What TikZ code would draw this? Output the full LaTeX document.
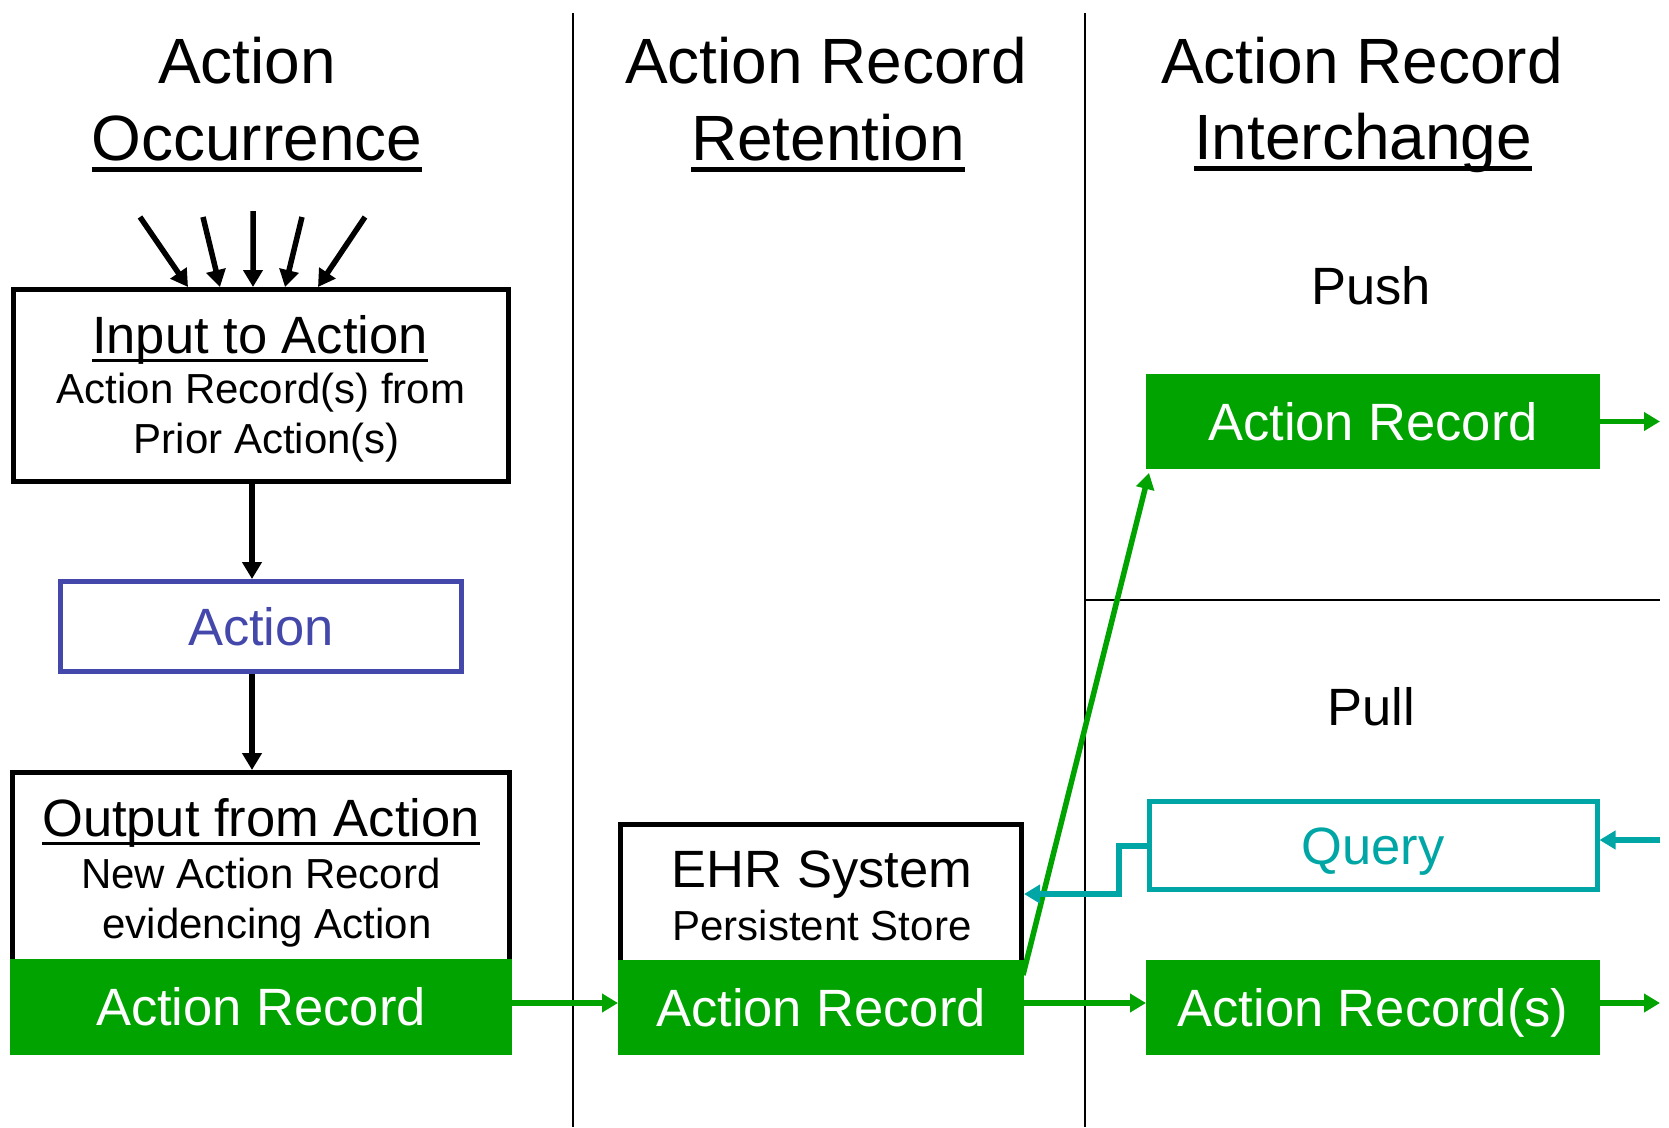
\documentclass[tikz,border=0pt]{standalone}
\usepackage{fontspec}
\setmainfont{Liberation Sans}
\usetikzlibrary{arrows.meta,calc}
\definecolor{argreen}{RGB}{0,163,0}
\definecolor{arblue}{RGB}{68,72,170}
\definecolor{arteal}{RGB}{0,166,166}
\newcommand\myul[1]{\setbox0=\hbox{#1}\rlap{\rule[-0.18em]{\wd0}{0.075em}}\box0}
\begin{document}
\begin{tikzpicture}[x=1pt,y=-1pt,
  ttl/.style={font=\fontsize{64}{70}\selectfont, anchor=base, inner sep=0pt},
  hdr/.style={font=\fontsize{52.5}{60}\selectfont, anchor=base, inner sep=0pt},
  sub/.style={font=\fontsize{42}{48}\selectfont, anchor=base, inner sep=0pt},
  box/.style={rectangle, line width=5pt, inner sep=0pt, outer sep=2.5pt,
    font=\fontsize{52.5}{60}\selectfont, text height=37.6pt, text depth=0pt},
  grn/.style={box, fill=argreen, text=white, draw=none, outer sep=0pt},
  blk/.style={line width=5.5pt, -{Triangle[width=19pt,length=17pt]}},
  garr/.style={argreen, line width=5.5pt, -{Triangle[width=18pt,length=16pt]}},
  tarr/.style={arteal, line width=6pt, -{Triangle[width=18pt,length=16pt]}},
  sepline/.style={line width=2.5pt}]
\useasboundingbox (0,0) rectangle (1669,1127);
% separators
\draw[sepline] (573,13) -- (573,1127);
\draw[sepline] (1085,13) -- (1085,1127);
\draw[sepline] (1085,600) -- (1660,600);
% titles
\node[ttl] (t1a) at (247,83) {Action};
\node[ttl] (t1b) at (257,160) {\myul{Occurrence}};
\node[ttl] (t2a) at (826,83) {Action Record};
\node[ttl] (t2b) at (828,160) {\myul{Retention}};
\node[ttl] (t3a) at (1362,83) {Action Record};
\node[ttl] (t3b) at (1363,159) {\myul{Interchange}};
\node[hdr] (push) at (1371,304) {Push};
\node[hdr] (pull) at (1371,725) {Pull};
% input box
\node[box, draw, minimum width=495pt, minimum height=192pt] (inbox) at (261,385.5) {};
\node[hdr] (inl1) at (260,353) {\myul{Input to Action}};
\node[sub] (inl2) at (261,403) {Action Record(s) from};
\node[sub] (inl3) at (267,453) {Prior Action(s)};
% action
\node[box, draw=arblue, text=arblue, minimum width=401pt, minimum height=90pt] (act) at (261,626.5) {Action};
% output
\node[box, draw, minimum width=497pt, minimum height=280pt] (outbox) at (261,912.5) {};
\node[hdr] (ol1) at (261,836) {\myul{Output from Action}};
\node[sub] (ol2) at (261,888) {New Action Record};
\node[sub] (ol3) at (267,938) {evidencing Action};
\node[grn, minimum width=502pt, minimum height=96pt] (outg) at (261,1007) {Action Record};
% EHR
\node[box, draw, minimum width=401pt, minimum height=228pt] (ehr) at (821,938.5) {};
\node[hdr] (el1) at (822,887) {EHR System};
\node[sub] (el2) at (822,940) {Persistent Store};
\node[grn, minimum width=406pt, minimum height=95pt] (ehrg) at (821,1007.5) {Action Record};
% push / pull
\node[grn, minimum width=454pt, minimum height=95pt] (pushg) at (1373,421.5) {Action Record};
\node[box, draw=arteal, text=arteal, minimum width=448pt, minimum height=88pt] (query) at (1373,845.5) {Query};
\node[grn, minimum width=454pt, minimum height=95pt] (pullg) at (1373,1007.5) {Action Record(s)};
% black arrows
\coordinate (ax) at (252,0);
\draw[blk] (inbox.south -| ax) -- (act.north -| ax);
\draw[blk] (act.south -| ax) -- (outbox.north -| ax);
\coordinate (i1) at (140,217);
\coordinate (i2) at (203,217);
\coordinate (i3) at (253,211);
\coordinate (i4) at (302,217);
\coordinate (i5) at (365,217);
\draw[blk] (i1) -- ($(inbox.north west)!0.354!(inbox.north east)$);
\draw[blk] (i2) -- ($(inbox.north west)!0.418!(inbox.north east)$);
\draw[blk] (i3) -- ($(inbox.north west)!0.484!(inbox.north east)$);
\draw[blk] (i4) -- ($(inbox.north west)!0.548!(inbox.north east)$);
\draw[blk] (i5) -- ($(inbox.north west)!0.614!(inbox.north east)$);
% green arrows
\coordinate (gy) at (0,1003);
\draw[garr] (gy -| outg.east) -- (gy -| ehrg.west);
\draw[garr] (gy -| ehrg.east) -- (gy -| pullg.west);
\coordinate (pullout) at (1660,1003);
\draw[garr] (pullout -| pullg.east) -- (pullout);
\coordinate (pushout) at (1660,421.5);
\draw[garr] (pushg.east) -- (pushout);
\draw[garr] ($(ehrg.north east)+(-1,15)$) -- ($(pushg.south west)+(3,4)$);
% teal arrows
\coordinate (qin) at (1660,840);
\draw[tarr] (qin) -- (qin -| query.east);
\coordinate (qc) at (1119,894);
\draw[tarr] (query.west) -- (query.west -| qc) -- (qc) -- (qc -| ehr.east);
\end{tikzpicture}
\end{document}
